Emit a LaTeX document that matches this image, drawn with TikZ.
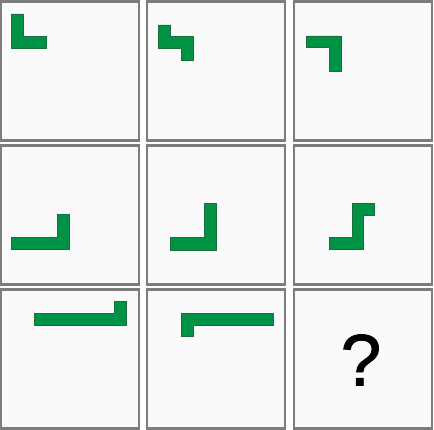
\documentclass[tikz,border=0pt]{standalone}
\usepackage{fontspec}
\setmainfont{Liberation Sans}
\newfontfamily\askfont[FakeBold=1.2]{Liberation Sans}
\definecolor{piecegreen}{RGB}{0,146,69}
\definecolor{pieceedge}{RGB}{25,110,60}
\definecolor{cellgray}{RGB}{125,125,125}
\begin{document}
\begin{tikzpicture}[x=1pt,y=-1pt,inner sep=0pt,outer sep=0pt,
cell/.style={draw=cellgray,fill=white!98!black,rectangle,minimum width=138pt,minimum height=139pt,line width=2.4pt},
piece/.style={fill=piecegreen,draw=pieceedge,line width=0.6pt}]
\useasboundingbox (0,0) rectangle (434,430);
\draw (70,71) node[cell] (c11) {};
\draw (216,71) node[cell] (c12) {};
\draw (363,71) node[cell] (c13) {};
\draw (70,215) node[cell] (c21) {};
\draw (216,215) node[cell] (c22) {};
\draw (363,215) node[cell] (c23) {};
\draw (70,359) node[cell] (c31) {};
\draw (216,359) node[cell] (c32) {};
\draw (363,359) node[cell] (c33) {};

% row 1
\draw[piece] (11.7,14) -- (23.3,14) -- (23.3,36.7) -- (46.7,36.7) -- (46.7,48.3) -- (11.7,48.3) -- cycle;
\draw[piece] (158.3,25) -- (170.7,25) -- (170.7,36.7) -- (193.3,36.7) -- (193.3,60) -- (181.7,60) -- (181.7,48.3) -- (158.3,48.3) -- cycle;
\draw[piece] (306.3,36) -- (341,36) -- (341,71) -- (329.3,71) -- (329.3,47.7) -- (306.3,47.7) -- cycle;
% row 2
\draw[piece] (11.7,237.3) -- (57.7,237.3) -- (57.7,214.3) -- (69.3,214.3) -- (69.3,249.3) -- (11.7,249.3) -- cycle;
\draw[piece] (170,237.7) -- (204.3,237.7) -- (204.3,203.3) -- (216,203.3) -- (216,250) -- (170,250) -- cycle;
\draw[piece] (329.3,237.3) -- (352,237.3) -- (352,203.3) -- (374.7,203.3) -- (374.7,215) -- (363.7,215) -- (363.7,249.3) -- (329.3,249.3) -- cycle;
% row 3
\draw[piece] (34.3,313.3) -- (114.3,313.3) -- (114.3,301.7) -- (126,301.7) -- (126,325) -- (34.3,325) -- cycle;
\draw[piece] (181.7,313.3) -- (273.3,313.3) -- (273.3,325) -- (193.3,325) -- (193.3,336.7) -- (181.7,336.7) -- cycle;
\draw (c33.center) ++(-2,1) node (ask) {\askfont\fontsize{73}{73}\selectfont ?};
\end{tikzpicture}
\end{document}
